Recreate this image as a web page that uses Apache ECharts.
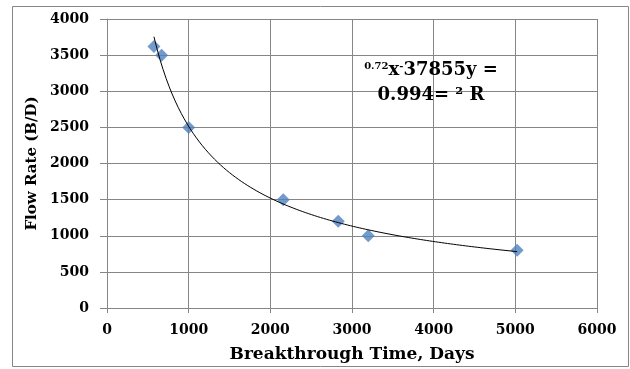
<!DOCTYPE html>
<html>
<head>
<meta charset="utf-8">
<script src="https://cdn.jsdelivr.net/npm/echarts@6/dist/echarts.min.js"></script>
<style>
  html, body { margin: 0; padding: 0; background: #fff; }
  #chart { width: 630px; height: 369px; }
</style>
</head>
<body>
<div id="chart"></div>
<script>
// Breakthrough time (days) against flow rate (B/D)
const breakthroughDays = [575, 669, 1000, 2158, 2832, 3199, 5022];
const flowRates = [3620, 3500, 2500, 1500, 1200, 1000, 800];

const xTicks = { min: 0, max: 6000, interval: 1000 };
const yTicks = { min: 0, max: 4000, interval: 500 };

const xTitle = 'Breakthrough Time, Days';
const yTitle = 'Flow Rate (B/D)';

// Power trendline y = a * x^b, least-squares fit in log space
function powerFit(xs, ys) {
  const lx = xs.map(Math.log), ly = ys.map(Math.log);
  const n = xs.length;
  const mx = lx.reduce((s, v) => s + v, 0) / n;
  const my = ly.reduce((s, v) => s + v, 0) / n;
  let sxy = 0, sxx = 0;
  for (let i = 0; i < n; i++) {
    sxy += (lx[i] - mx) * (ly[i] - my);
    sxx += (lx[i] - mx) * (lx[i] - mx);
  }
  const b = sxy / sxx;
  const a = Math.exp(my - b * mx);
  return { a, b };
}
const fit = powerFit(breakthroughDays, flowRates);
const xMin = Math.min(...breakthroughDays), xMax = Math.max(...breakthroughDays);
const trend = [];
for (let i = 0; i <= 120; i++) {
  const x = xMin + (xMax - xMin) * i / 120;
  trend.push([x, fit.a * Math.pow(x, fit.b)]);
}

const serif = 'DejaVu Serif';
const axisGray = '#868686';
const plainNumber = v => String(v);

const chart = echarts.init(document.getElementById('chart'), null, { renderer: 'canvas' });
chart.setOption({
  animation: false,
  backgroundColor: '#ffffff',
  grid: { left: 107, right: 33, top: 19, bottom: 61, containLabel: false },
  xAxis: {
    type: 'value',
    min: xTicks.min, max: xTicks.max, interval: xTicks.interval,
    name: xTitle,
    nameLocation: 'middle',
    nameGap: 38,
    nameTextStyle: { fontFamily: serif, fontWeight: 'bold', fontSize: 17, color: '#000' },
    axisLine: { show: true, onZero: false, lineStyle: { color: axisGray, width: 1 } },
    axisTick: { show: true, inside: false, length: 5, lineStyle: { color: axisGray } },
    axisLabel: { margin: 15, fontFamily: serif, fontWeight: 'bold', fontSize: 14, color: '#000', formatter: plainNumber },
    splitLine: { show: true, lineStyle: { color: axisGray, width: 1 } }
  },
  yAxis: {
    type: 'value',
    min: yTicks.min, max: yTicks.max, interval: yTicks.interval,
    name: yTitle,
    nameLocation: 'middle',
    nameGap: 67,
    nameRotate: 90,
    nameTextStyle: { fontFamily: serif, fontWeight: 'bold', fontSize: 15, color: '#000' },
    axisLine: { show: true, onZero: false, lineStyle: { color: axisGray, width: 1 } },
    axisTick: { show: true, inside: false, length: 7, lineStyle: { color: axisGray } },
    axisLabel: { margin: 18, fontFamily: serif, fontWeight: 'bold', fontSize: 14, color: '#000', formatter: plainNumber },
    splitLine: { show: true, lineStyle: { color: axisGray, width: 1 } }
  },
  series: [
    {
      name: 'Trend',
      type: 'line',
      data: trend,
      showSymbol: false,
      smooth: false,
      lineStyle: { color: '#000', width: 1 },
      z: 3
    },
    {
      name: 'Flow rate',
      type: 'scatter',
      data: breakthroughDays.map((x, i) => [x, flowRates[i]]),
      symbol: 'diamond',
      symbolSize: [13, 13],
      itemStyle: { color: '#4F81BD' },
      z: 2
    }
  ],
  graphic: [
    {
      type: 'rect',
      shape: { x: 12.5, y: 6.5, width: 616, height: 360 },
      style: { fill: 'none', stroke: axisGray, lineWidth: 1 },
      silent: true
    },
    {
      type: 'text',
      x: 431, y: 58,
      z: 10,
      style: {
        text: '{sup|0.72}{b|x}{sup|-}{b|37855y =}\n{b|0.994= \u00b2 R}',
        align: 'center',
        verticalAlign: 'top',
        rich: {
          b: { fontFamily: serif, fontWeight: 'bold', fontSize: 18, color: '#000', lineHeight: 25 },
          sup: { fontFamily: serif, fontWeight: 'bold', fontSize: 10, color: '#000', lineHeight: 25, padding: [0, 0, 9, 0] }
        }
      }
    }
  ]
});
</script>
</body>
</html>
